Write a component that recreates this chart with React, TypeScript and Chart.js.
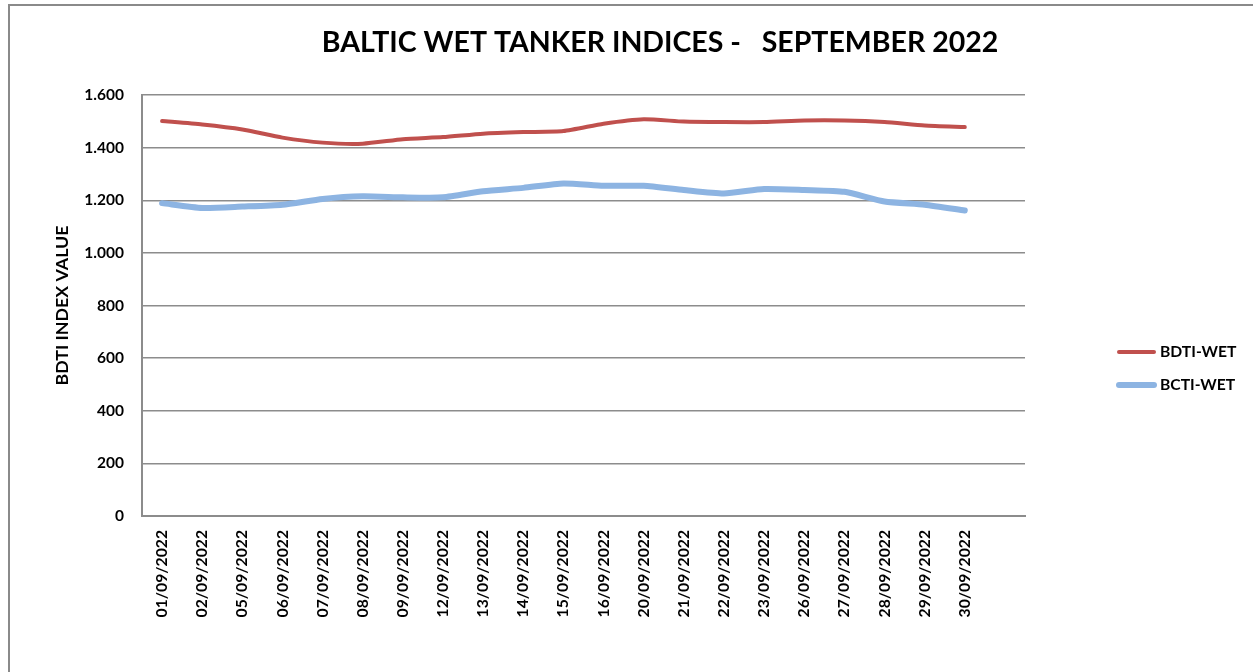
import React, { useEffect, useRef } from "react";
import { Chart, registerables } from "chart.js";

Chart.register(...registerables);

const dates = [
  "01/09/2022", "02/09/2022", "05/09/2022", "06/09/2022", "07/09/2022",
  "08/09/2022", "09/09/2022", "12/09/2022", "13/09/2022", "14/09/2022",
  "15/09/2022", "16/09/2022", "20/09/2022", "21/09/2022", "22/09/2022",
  "23/09/2022", "26/09/2022", "27/09/2022", "28/09/2022", "29/09/2022",
  "30/09/2022",
];
const categories = [...dates, ""];

const bdtiWet = [
  1501, 1488, 1469, 1438, 1419, 1415, 1432, 1440, 1453, 1459, 1463,
  1491, 1508, 1499, 1497, 1497, 1503, 1503, 1497, 1484, 1478,
];
const bctiWet = [
  1189, 1171, 1176, 1183, 1205, 1215, 1211, 1211, 1234, 1247, 1264,
  1255, 1255, 1239, 1226, 1243, 1239, 1232, 1195, 1183, 1161,
];

const titleText = "BALTIC WET TANKER INDICES -   SEPTEMBER 2022";
const yAxisTitle = "BDTI INDEX VALUE";
const seriesNames = ["BDTI-WET", "BCTI-WET"];

const FONT = "Lato, 'Open Sans', 'DejaVu Sans', sans-serif";
const GRID = "#8c8c8c";

const framePlugin = {
  id: "frame",
  beforeDraw(chart: any) {
    const ctx = chart.ctx;
    ctx.save();
    ctx.fillStyle = "#ffffff";
    ctx.fillRect(0, 0, chart.width, chart.height);
    ctx.strokeStyle = "#8a8a8a";
    ctx.lineWidth = 2;
    ctx.beginPath();
    ctx.moveTo(9, chart.height);
    ctx.lineTo(9, 5);
    ctx.lineTo(chart.width, 5);
    ctx.stroke();
    ctx.restore();
  },
  afterDraw(chart: any) {
    const ctx = chart.ctx;
    ctx.save();
    ctx.fillStyle = "#000000";
    ctx.font = `bold 28.5px ${FONT}`;
    ctx.textAlign = "center";
    ctx.textBaseline = "middle";
    ctx.fillText(titleText, 660, 43);
    chart.data.datasets.forEach((ds: any, i: number) => {
      const y = 352 + i * 33;
      ctx.strokeStyle = ds.borderColor;
      ctx.lineWidth = ds.borderWidth;
      ctx.lineCap = "round";
      ctx.beginPath();
      ctx.moveTo(1119, y);
      ctx.lineTo(1154, y);
      ctx.stroke();
      ctx.fillStyle = "#000000";
      ctx.font = `bold 15.7px ${FONT}`;
      ctx.textAlign = "left";
      ctx.textBaseline = "middle";
      ctx.fillText(ds.label, 1160, y);
    });
    ctx.restore();
  },
};

export default function App() {
  const ref = useRef<HTMLCanvasElement | null>(null);
  useEffect(() => {
    if (!ref.current) return;
    const chart = new Chart(ref.current, {
      type: "line",
      data: {
        labels: categories,
        datasets: [
          {
            label: seriesNames[0],
            data: bdtiWet,
            borderColor: "#C0504D",
            backgroundColor: "#C0504D",
            borderWidth: 4,
            pointRadius: 0,
            tension: 0.2,
            borderCapStyle: "round",
            borderJoinStyle: "round",
          },
          {
            label: seriesNames[1],
            data: bctiWet,
            borderColor: "#8DB4E2",
            backgroundColor: "#8DB4E2",
            borderWidth: 6,
            pointRadius: 0,
            tension: 0.2,
            borderCapStyle: "round",
            borderJoinStyle: "round",
          },
        ],
      },
      options: {
        responsive: false,
        animation: false,
        layout: { padding: { top: 95, right: 228, left: 0, bottom: 0 } },
        plugins: {
          legend: { display: false },
          title: { display: false },
          tooltip: { enabled: false },
        },
        scales: {
          x: {
            offset: true,
            grid: { display: false, drawTicks: false },
            border: { display: true, color: GRID, width: 2 },
            ticks: {
              autoSkip: false,
              minRotation: 90,
              maxRotation: 90,
              padding: 14,
              color: "#000000",
              font: { family: FONT, size: 15.7, weight: "bold" },
            },
            afterFit(scale: any) {
              scale.height = 156;
            },
          },
          y: {
            min: 0,
            max: 1600,
            grid: { color: GRID, lineWidth: 1.5, drawTicks: false },
            border: { display: true, color: GRID, width: 2 },
            ticks: {
              stepSize: 200,
              padding: 18,
              color: "#000000",
              font: { family: FONT, size: 15.5, weight: "bold" },
              callback: (v: any) =>
                Number(v).toLocaleString("en-US").replace(/,/g, "."),
            },
            title: {
              display: true,
              text: yAxisTitle,
              color: "#000000",
              font: { family: FONT, size: 17.8, weight: "bold", lineHeight: 1.2 },
              padding: { top: 52, bottom: 0 },
            },
            afterFit(scale: any) {
              scale.width = 142;
            },
          },
        },
      },
      plugins: [framePlugin],
    });
    return () => chart.destroy();
  }, []);
  return (
    <div style={{ position: "fixed", left: 0, top: 0, width: 1253, height: 672, background: "#fff" }}>
      <canvas ref={ref} width={1253} height={672} style={{ width: 1253, height: 672, display: "block" }} />
    </div>
  );
}
